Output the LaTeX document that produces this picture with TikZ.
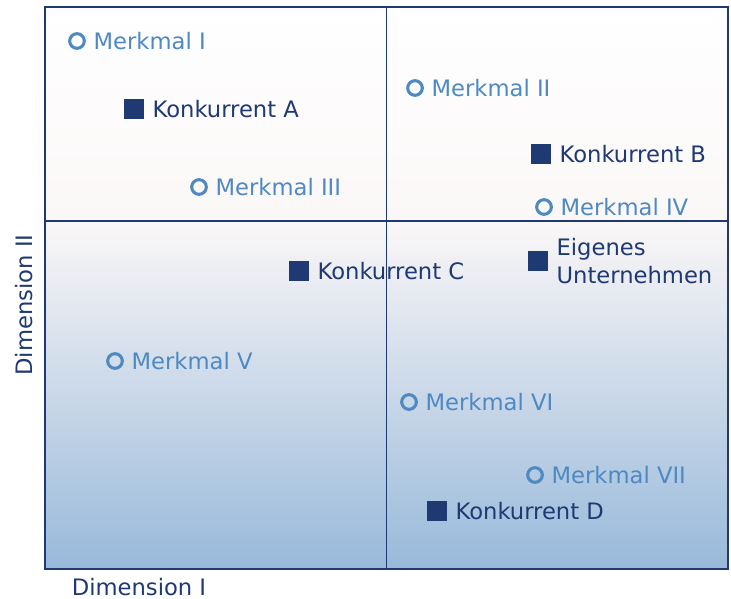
\documentclass[tikz,border=0pt]{standalone}
\usepackage{fontspec}
\setmainfont{DejaVu Sans}
\usetikzlibrary{positioning}
\definecolor{navy}{RGB}{31,58,115}
\definecolor{featblue}{RGB}{78,137,194}
\definecolor{paleback}{RGB}{251,247,247}
\definecolor{midback}{RGB}{212,225,239}
\definecolor{lowback}{RGB}{152,185,218}

\begin{document}
\begin{tikzpicture}[x=0.75pt, y=-0.75pt,
    feature/.style={circle, draw=featblue, line width=2.3pt, minimum size=11pt, inner sep=0pt},
    rival/.style={rectangle, fill=navy, minimum size=15pt, inner sep=0pt},
    ftext/.style={right=5.6pt of #1, inner sep=0pt, text=featblue, font=\fontsize{17}{20}\selectfont},
    rtext/.style={right=6pt of #1, inner sep=0pt, text=navy, font=\fontsize{17}{20}\selectfont},
    axis/.style={navy, line width=1.4pt}]
    \useasboundingbox (0,0) rectangle (731,599);

    % background
    \shade[top color=white, bottom color=paleback] (44,6) rectangle (727,221);
    \shade[top color=paleback, middle color=midback, bottom color=lowback] (44,221) rectangle (727,568);

    % quadrants
    \node[draw=navy, line width=1.5pt, minimum width=512.25pt, minimum height=421.5pt, inner sep=0pt, anchor=north west] (frame) at (44,6) {};
    \draw[axis] (frame.north) -- (frame.south);
    \draw[axis] (frame.west |- 0,221) coordinate (hl) -- (frame.east |- hl);

    % features
    \node[feature] (m1) at (77,41) {};
    \node[ftext=m1] (m1t) {Merkmal I};
    \node[feature] (m2) at (415,88) {};
    \node[ftext=m2] (m2t) {Merkmal II};
    \node[feature] (m3) at (199,187) {};
    \node[ftext=m3] (m3t) {Merkmal III};
    \node[feature] (m4) at (544,207) {};
    \node[ftext=m4] (m4t) {Merkmal IV};
    \node[feature] (m5) at (115,361) {};
    \node[ftext=m5] (m5t) {Merkmal V};
    \node[feature] (m6) at (409,402) {};
    \node[ftext=m6] (m6t) {Merkmal VI};
    \node[feature] (m7) at (535,475) {};
    \node[ftext=m7] (m7t) {Merkmal VII};

    % competitors
    \node[rival] (ka) at (134,109) {};
    \node[rtext=ka] (kat) {Konkurrent A};
    \node[rival] (kb) at (541,154) {};
    \node[rtext=kb] (kbt) {Konkurrent B};
    \node[rival] (kc) at (299,271) {};
    \node[rtext=kc] (kct) {Konkurrent C};
    \node[rival] (kd) at (437,511) {};
    \node[rtext=kd] (kdt) {Konkurrent D};
    \node[rival] (own) at (538,261) {};
    \node[rtext=own, align=left, font=\fontsize{17}{20.5}\selectfont] (ownt) {Eigenes\\Unternehmen};

    % axis labels
    \node[text=navy, font=\fontsize{17}{20}\selectfont] (dim1) at (139,587) {Dimension I};
    \node[text=navy, rotate=90, font=\fontsize{17}{20}\selectfont] (dim2) at (24,305) {Dimension II};
\end{tikzpicture}
\end{document}
